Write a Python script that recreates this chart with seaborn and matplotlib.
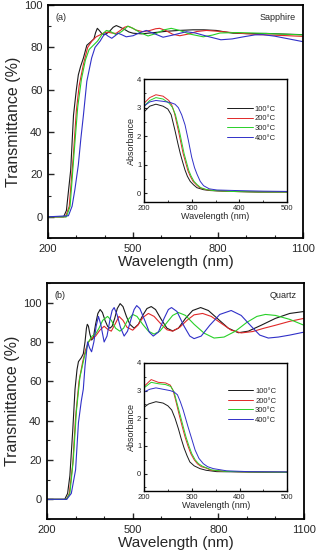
import pandas as pd
import numpy as np
import matplotlib
matplotlib.use("Agg")
import matplotlib.pyplot as plt
from matplotlib.ticker import MultipleLocator
import seaborn as sns

# ---------------- data ----------------
temps = ['100°C', '200°C', '300°C', '400°C']
colors = ['#1a1a1a', '#e02828', '#28d028', '#3030c8']

# (a) sapphire, transmittance
a_T_x = [
    [200, 255, 265, 280, 290, 300, 307, 315, 325, 337, 350, 362, 368, 374, 381, 390, 400, 410, 420, 430, 441, 455, 470, 485, 500,
     530, 560, 590, 618, 660, 712, 750, 794, 825, 853, 900, 970, 1030, 1100],
    [200, 262, 275, 290, 300, 310, 325, 340, 355, 370, 385, 400, 410, 425, 440, 455, 470, 482, 495, 510, 535, 560, 580, 594,
     615, 640, 665, 695, 725, 759, 800, 866, 950, 1030, 1100],
    [200, 265, 278, 292, 305, 318, 332, 345, 360, 375, 390, 406, 420, 441, 460, 482, 500, 525, 553, 580, 610, 635, 665, 700,
     748, 780, 807, 870, 924, 1000, 1100],
    [200, 272, 285, 295, 307, 316, 325, 337, 354, 366, 384, 393, 401, 412, 425, 437, 447, 460, 476, 500, 525, 547, 575, 606,
     640, 688, 720, 760, 810, 850, 890, 930, 959, 1000, 1050, 1100],
]
a_T_y = [
    [0, 0, 3, 22, 48, 60, 67, 71, 75, 81, 82.5, 84, 87, 89, 88, 86.5, 86, 86.8, 88, 89.5, 90.3, 89.5, 88.5, 87.3, 86.7,
     86.4, 86.8, 87.2, 87.6, 88, 88.3, 88.3, 88, 87.3, 86.7, 86.5, 86.6, 86.3, 86],
    [0, 0, 5, 30, 50, 62, 72, 80, 83, 85, 86, 87, 87.2, 86.8, 86.6, 88, 89.5, 90, 89.3, 88.2, 87.4, 88, 88.8, 89,
     88, 86.2, 85.5, 86.3, 87.5, 88, 87.6, 86.8, 86, 85.6, 85.2],
    [0, 0, 5, 30, 52, 65, 74, 79, 81, 83, 86, 88, 87.5, 86, 87.5, 90, 89, 87, 85.4, 86.5, 88.3, 89, 88, 86.3,
     85, 85.8, 86.8, 87, 86.8, 86.4, 85.9],
    [0, 0.5, 5, 13, 24.5, 37, 48, 64, 75, 80, 83, 85, 86.5, 85.3, 84.3, 85.5, 86.7, 86, 85, 85.5, 87, 88, 86.5, 84.8,
     85.8, 87.4, 86.8, 85.3, 83.6, 84, 85, 85.9, 86, 85.3, 84, 82.7],
]

# (a) inset, absorbance
a_A_x = [
    [200, 212, 225, 240, 250, 257, 265, 271, 276, 281, 286, 291, 297, 304, 311, 325, 339, 380, 440, 500],
    [200, 212, 225, 240, 252, 258, 264, 272, 277, 282, 287, 292, 297, 303, 310, 317, 330, 345, 380, 440, 500],
    [200, 212, 225, 240, 253, 260, 266, 274, 279, 284, 289, 294, 299, 305, 312, 319, 332, 347, 380, 440, 500],
    [200, 212, 225, 240, 255, 265, 272, 279, 286, 293, 300, 306, 311, 318, 325, 337, 353, 396, 450, 500],
]
a_A_y = [
    [2.85, 3.05, 3.12, 3.05, 2.95, 2.75, 2.2, 1.75, 1.4, 1.1, 0.82, 0.6, 0.42, 0.3, 0.2, 0.13, 0.1, 0.07, 0.05, 0.05],
    [3.15, 3.35, 3.45, 3.4, 3.25, 3.1, 2.8, 2.2, 1.8, 1.4, 1.1, 0.8, 0.6, 0.42, 0.3, 0.2, 0.13, 0.1, 0.07, 0.05, 0.05],
    [3.05, 3.25, 3.35, 3.3, 3.15, 3.0, 2.75, 2.2, 1.8, 1.4, 1.1, 0.8, 0.6, 0.42, 0.3, 0.2, 0.13, 0.1, 0.07, 0.05, 0.05],
    [3.05, 3.2, 3.25, 3.22, 3.18, 3.12, 3.0, 2.75, 2.4, 1.86, 1.27, 0.9, 0.68, 0.42, 0.27, 0.16, 0.12, 0.1, 0.08, 0.07],
]

# (b) quartz, transmittance
b_T_x = [
    [200, 262, 272, 280, 290, 298, 305, 310, 320, 327, 333, 338, 341, 345, 350, 356, 362, 370, 378, 386, 394, 403, 412, 420,
     428, 437, 446, 456, 466, 478, 490, 505, 520, 535, 550, 565, 580, 600, 620, 640, 660, 685, 710, 738, 765, 800, 835, 870,
     905, 950, 1000, 1050, 1100],
    [200, 268, 278, 290, 300, 312, 325, 335, 345, 357, 370, 385, 400, 412, 425, 438, 452, 466, 480, 500, 518, 536, 555, 575,
     600, 620, 640, 665, 690, 715, 745, 775, 810, 845, 880, 920, 960, 1000, 1050, 1100],
    [200, 268, 280, 292, 303, 315, 330, 345, 358, 370, 382, 395, 412, 425, 440, 455, 468, 482, 500, 515, 535, 555, 575, 595,
     615, 640, 660, 685, 715, 750, 785, 820, 860, 900, 935, 965, 1000, 1050, 1100],
    [200, 269, 285, 300, 310, 320, 327, 333, 342, 349, 356, 364, 372, 380, 388, 400, 410, 420, 428, 435, 445, 457, 470, 482,
     495, 505, 514, 525, 545, 558, 572, 590, 610, 625, 636, 655, 680, 700, 715, 740, 770, 805, 845, 880, 915, 945, 975, 1010,
     1050, 1100],
]
b_T_y = [
    [0, 0, 3, 12, 35, 56, 66, 70, 72, 74, 80, 87, 89, 88, 84, 81, 82, 89, 94.5, 96.5, 95, 91, 88, 87,
     88, 92, 97, 99.5, 98, 93, 89, 87, 89, 93.5, 97, 98, 96.5, 91.5, 87, 85.6, 87, 92, 96, 97.5, 96, 91.5, 87, 84.7,
     85.5, 88.5, 92, 94.5, 95.5],
    [0, 0, 3, 18, 42, 60, 70, 76, 80, 82, 83, 86, 88, 86.5, 85.5, 89, 93, 91, 87.5, 86, 88.5, 92.5, 94.5, 93,
     89, 86.2, 85.5, 87.5, 91, 93.8, 94.5, 93, 89.5, 86, 84.6, 85.3, 87, 88.5, 90.5, 92],
    [0, 0, 3, 20, 45, 62, 72, 80, 83, 84, 87, 91, 93, 91, 87, 85.5, 87, 91, 94, 93, 89, 85.5, 84, 85.5,
     89, 93.5, 95, 93.5, 89, 84.5, 82, 82.5, 85.5, 90, 93, 94, 93.5, 91.5, 88.5],
    [0, 0, 3, 15, 39, 50, 56, 67.7, 80, 77, 75, 80, 88, 93, 89, 80, 83, 91, 96, 97.5, 94, 87.5, 83, 85.5,
     92, 96.5, 98.5, 97, 90, 85, 83, 85, 92, 96.5, 97.5, 95.5, 88, 83, 81.7, 83, 88.5, 94, 96, 93.5, 88, 83.5, 82, 82.5,
     83.5, 85],
]

# (b) inset, absorbance
b_A_x = [
    [200, 210, 225, 240, 250, 258, 265, 272, 278, 284, 290, 296, 305, 317, 330, 352, 400, 450, 500],
    [200, 215, 230, 245, 255, 261, 267, 274, 280, 286, 292, 298, 305, 312, 320, 330, 340, 370, 420, 500],
    [200, 215, 230, 245, 256, 263, 269, 276, 282, 288, 294, 300, 307, 314, 322, 332, 342, 370, 420, 500],
    [200, 212, 225, 240, 255, 263, 270, 276, 282, 287, 292, 300, 307, 315, 324, 333, 345, 373, 420, 500],
]
b_A_y = [
    [2.4, 2.52, 2.6, 2.55, 2.45, 2.3, 2.0, 1.62, 1.25, 0.92, 0.65, 0.42, 0.28, 0.18, 0.12, 0.07, 0.06, 0.05, 0.05],
    [3.15, 3.4, 3.3, 3.28, 3.2, 3.0, 2.6, 2.1, 1.7, 1.32, 1.0, 0.72, 0.5, 0.35, 0.25, 0.2, 0.12, 0.08, 0.06, 0.05],
    [3.1, 3.3, 3.25, 3.22, 3.15, 2.95, 2.55, 2.1, 1.7, 1.32, 1.0, 0.72, 0.5, 0.36, 0.27, 0.2, 0.13, 0.08, 0.06, 0.05],
    [2.95, 3.05, 3.1, 3.05, 3.0, 2.95, 2.85, 2.6, 2.3, 2.0, 1.7, 1.25, 0.85, 0.55, 0.36, 0.25, 0.18, 0.1, 0.07, 0.06],
]


def to_df(xs, ys):
    rows = []
    for t, x, y in zip(temps, xs, ys):
        for xi, yi in zip(x, y):
            rows.append((t, xi, yi))
    return pd.DataFrame(rows, columns=['temp', 'wl', 'val'])


sns.set_style("ticks")
plt.rcParams['font.family'] = ['Liberation Sans', 'DejaVu Sans']
plt.rcParams['xtick.direction'] = 'in'
plt.rcParams['ytick.direction'] = 'in'

fig = plt.figure(figsize=(3.2, 5.53), dpi=100)
pal = dict(zip(temps, colors))


def style_axes(ax, lw=1.3):
    for s in ax.spines.values():
        s.set_linewidth(lw)
        s.set_color('black')


def main_panel(rect, xs, ys, ylim, yticks, tag, sub):
    ax = fig.add_axes(rect)
    sns.lineplot(data=to_df(xs, ys), x='wl', y='val', hue='temp', palette=pal,
                 estimator=None, sort=True, linewidth=0.8, legend=False, ax=ax)
    ax.set_xlim(200, 1100)
    ax.set_ylim(*ylim)
    ax.set_xticks([200, 500, 800, 1100])
    ax.xaxis.set_minor_locator(MultipleLocator(100))
    ax.set_yticks(yticks)
    ax.yaxis.set_minor_locator(MultipleLocator(10))
    ax.tick_params(which='major', length=4, width=1, labelsize=8, pad=4)
    ax.tick_params(which='minor', length=2, width=0.8)
    ax.set_xlabel('Wavelength (nm)', fontsize=11, labelpad=1)
    ax.set_ylabel('Transmittance (%)', fontsize=11.5, labelpad=2)
    ax.text(0.03, 0.965, tag, transform=ax.transAxes, fontsize=6.5, va='top')
    ax.text(0.97, 0.965, sub, transform=ax.transAxes, fontsize=6.5, va='top', ha='right')
    style_axes(ax)
    return ax


def inset_panel(rect, xs, ys, ylim, anchor_y):
    ax = fig.add_axes(rect)
    sns.lineplot(data=to_df(xs, ys), x='wl', y='val', hue='temp', palette=pal,
                 estimator=None, sort=True, linewidth=0.7, ax=ax)
    ax.set_xlim(200, 500)
    ax.set_ylim(*ylim)
    ax.set_xticks([200, 300, 400, 500])
    ax.xaxis.set_minor_locator(MultipleLocator(50))
    ax.set_yticks([0, 1, 2, 3, 4])
    ax.yaxis.set_minor_locator(MultipleLocator(0.5))
    ax.tick_params(which='major', length=2.5, width=0.8, labelsize=5.5, pad=2)
    ax.tick_params(which='minor', length=1.5, width=0.6)
    ax.set_xlabel('Wavelength (nm)', fontsize=6.5, labelpad=0)
    ax.set_ylabel('Absorbance', fontsize=6.5, labelpad=1)
    ax.legend(loc='upper right', bbox_to_anchor=(0.96, anchor_y), frameon=False,
              fontsize=5.5, handlelength=3.3, handletextpad=0.3,
              labelspacing=0.3, borderaxespad=0.3)
    style_axes(ax, 1.0)
    return ax


main_panel([0.15, 0.5696, 0.797, 0.4213], a_T_x, a_T_y, (-10, 100),
           [0, 20, 40, 60, 80, 100], '(a)', 'Sapphire')
inset_panel([0.45, 0.6347, 0.447, 0.2224], a_A_x, a_A_y, (-0.3, 4), 0.83)

main_panel([0.147, 0.0615, 0.803, 0.4268], b_T_x, b_T_y, (-10, 110),
           [0, 20, 40, 60, 80, 100], '(b)', 'Quartz')
inset_panel([0.45, 0.1121, 0.448, 0.2315], b_A_x, b_A_y, (-0.63, 4), 0.85)

fig.savefig('out.png', dpi=100)
